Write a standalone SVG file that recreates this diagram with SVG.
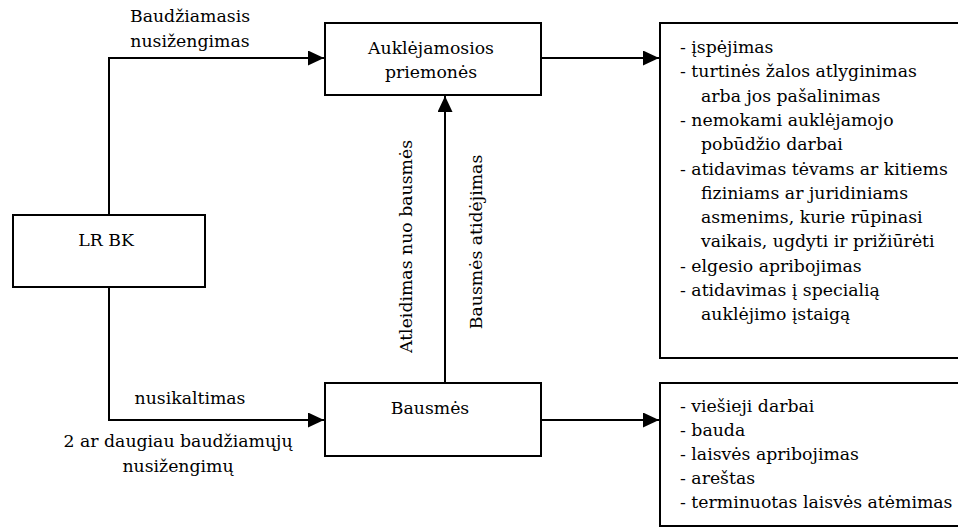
<svg xmlns="http://www.w3.org/2000/svg" width="958" height="528" viewBox="0 0 958 528" font-family="'DejaVu Serif', 'Liberation Serif', serif" font-size="17.3">
<style>
.c{text-anchor:middle}
.box{fill:#fff;stroke:#000;stroke-width:2}
.ln{fill:none;stroke:#000;stroke-width:2}
</style>
<defs>
<marker id="ah" markerUnits="userSpaceOnUse" markerWidth="16" markerHeight="15" refX="16" refY="7.5" orient="auto">
<path d="M0,0 L16,7.5 L0,15 z" fill="#000"/>
</marker>
</defs>
<g id="connectors">
<path class="ln" d="M109,215 V58 H324" marker-end="url(#ah)"/>
<path class="ln" d="M109,287 V420 H324" marker-end="url(#ah)"/>
<path class="ln" d="M445,383 V96" marker-end="url(#ah)"/>
<path class="ln" d="M541,58 H659" marker-end="url(#ah)"/>
<path class="ln" d="M541,420 H659" marker-end="url(#ah)"/>
<text class="c" x="190" y="22">Baudžiamasis</text>
<text class="c" x="190" y="47">nusižengimas</text>
<text class="c" x="190" y="404">nusikaltimas</text>
<text class="c" x="178" y="447">2 ar daugiau baudžiamųjų</text>
<text class="c" x="178" y="472">nusižengimų</text>
<text class="c" transform="translate(412,246.5) rotate(-90)">Atleidimas nuo bausmės</text>
<text class="c" transform="translate(482,242) rotate(-90)">Bausmės atidėjimas</text>
</g>
<g id="lrbk">
<rect class="box" x="13" y="215" width="192" height="72"/>
<text class="c" x="106" y="246">LR BK</text>
</g>
<g id="aukl">
<rect class="box" x="325" y="23" width="216" height="72"/>
<text class="c" x="431" y="54">Auklėjamosios</text>
<text class="c" x="431" y="78">priemonės</text>
</g>
<g id="bausmes">
<rect class="box" x="325" y="383" width="216" height="73"/>
<text class="c" x="430" y="414">Bausmės</text>
</g>
<g id="aukl-list">
<rect class="box" x="660" y="23" width="310" height="335"/>
<text x="680" y="53">- įspėjimas</text>
<text x="680" y="77.3">- turtinės žalos atlyginimas</text>
<text x="701" y="101.6">arba jos pašalinimas</text>
<text x="680" y="125.9">- nemokami auklėjamojo</text>
<text x="701" y="150.2">pobūdžio darbai</text>
<text x="680" y="174.5">- atidavimas tėvams ar kitiems</text>
<text x="701" y="198.8">fiziniams ar juridiniams</text>
<text x="701" y="223.1">asmenims, kurie rūpinasi</text>
<text x="701" y="247.4">vaikais, ugdyti ir prižiūrėti</text>
<text x="680" y="271.7">- elgesio apribojimas</text>
<text x="680" y="296">- atidavimas į specialią</text>
<text x="701" y="320.3">auklėjimo įstaigą</text>
</g>
<g id="bausmes-list">
<rect class="box" x="660" y="383" width="310" height="143"/>
<text x="680" y="412">- viešieji darbai</text>
<text x="680" y="436">- bauda</text>
<text x="680" y="460">- laisvės apribojimas</text>
<text x="680" y="484">- areštas</text>
<text x="680" y="508">- terminuotas laisvės atėmimas</text>
</g>
</svg>
